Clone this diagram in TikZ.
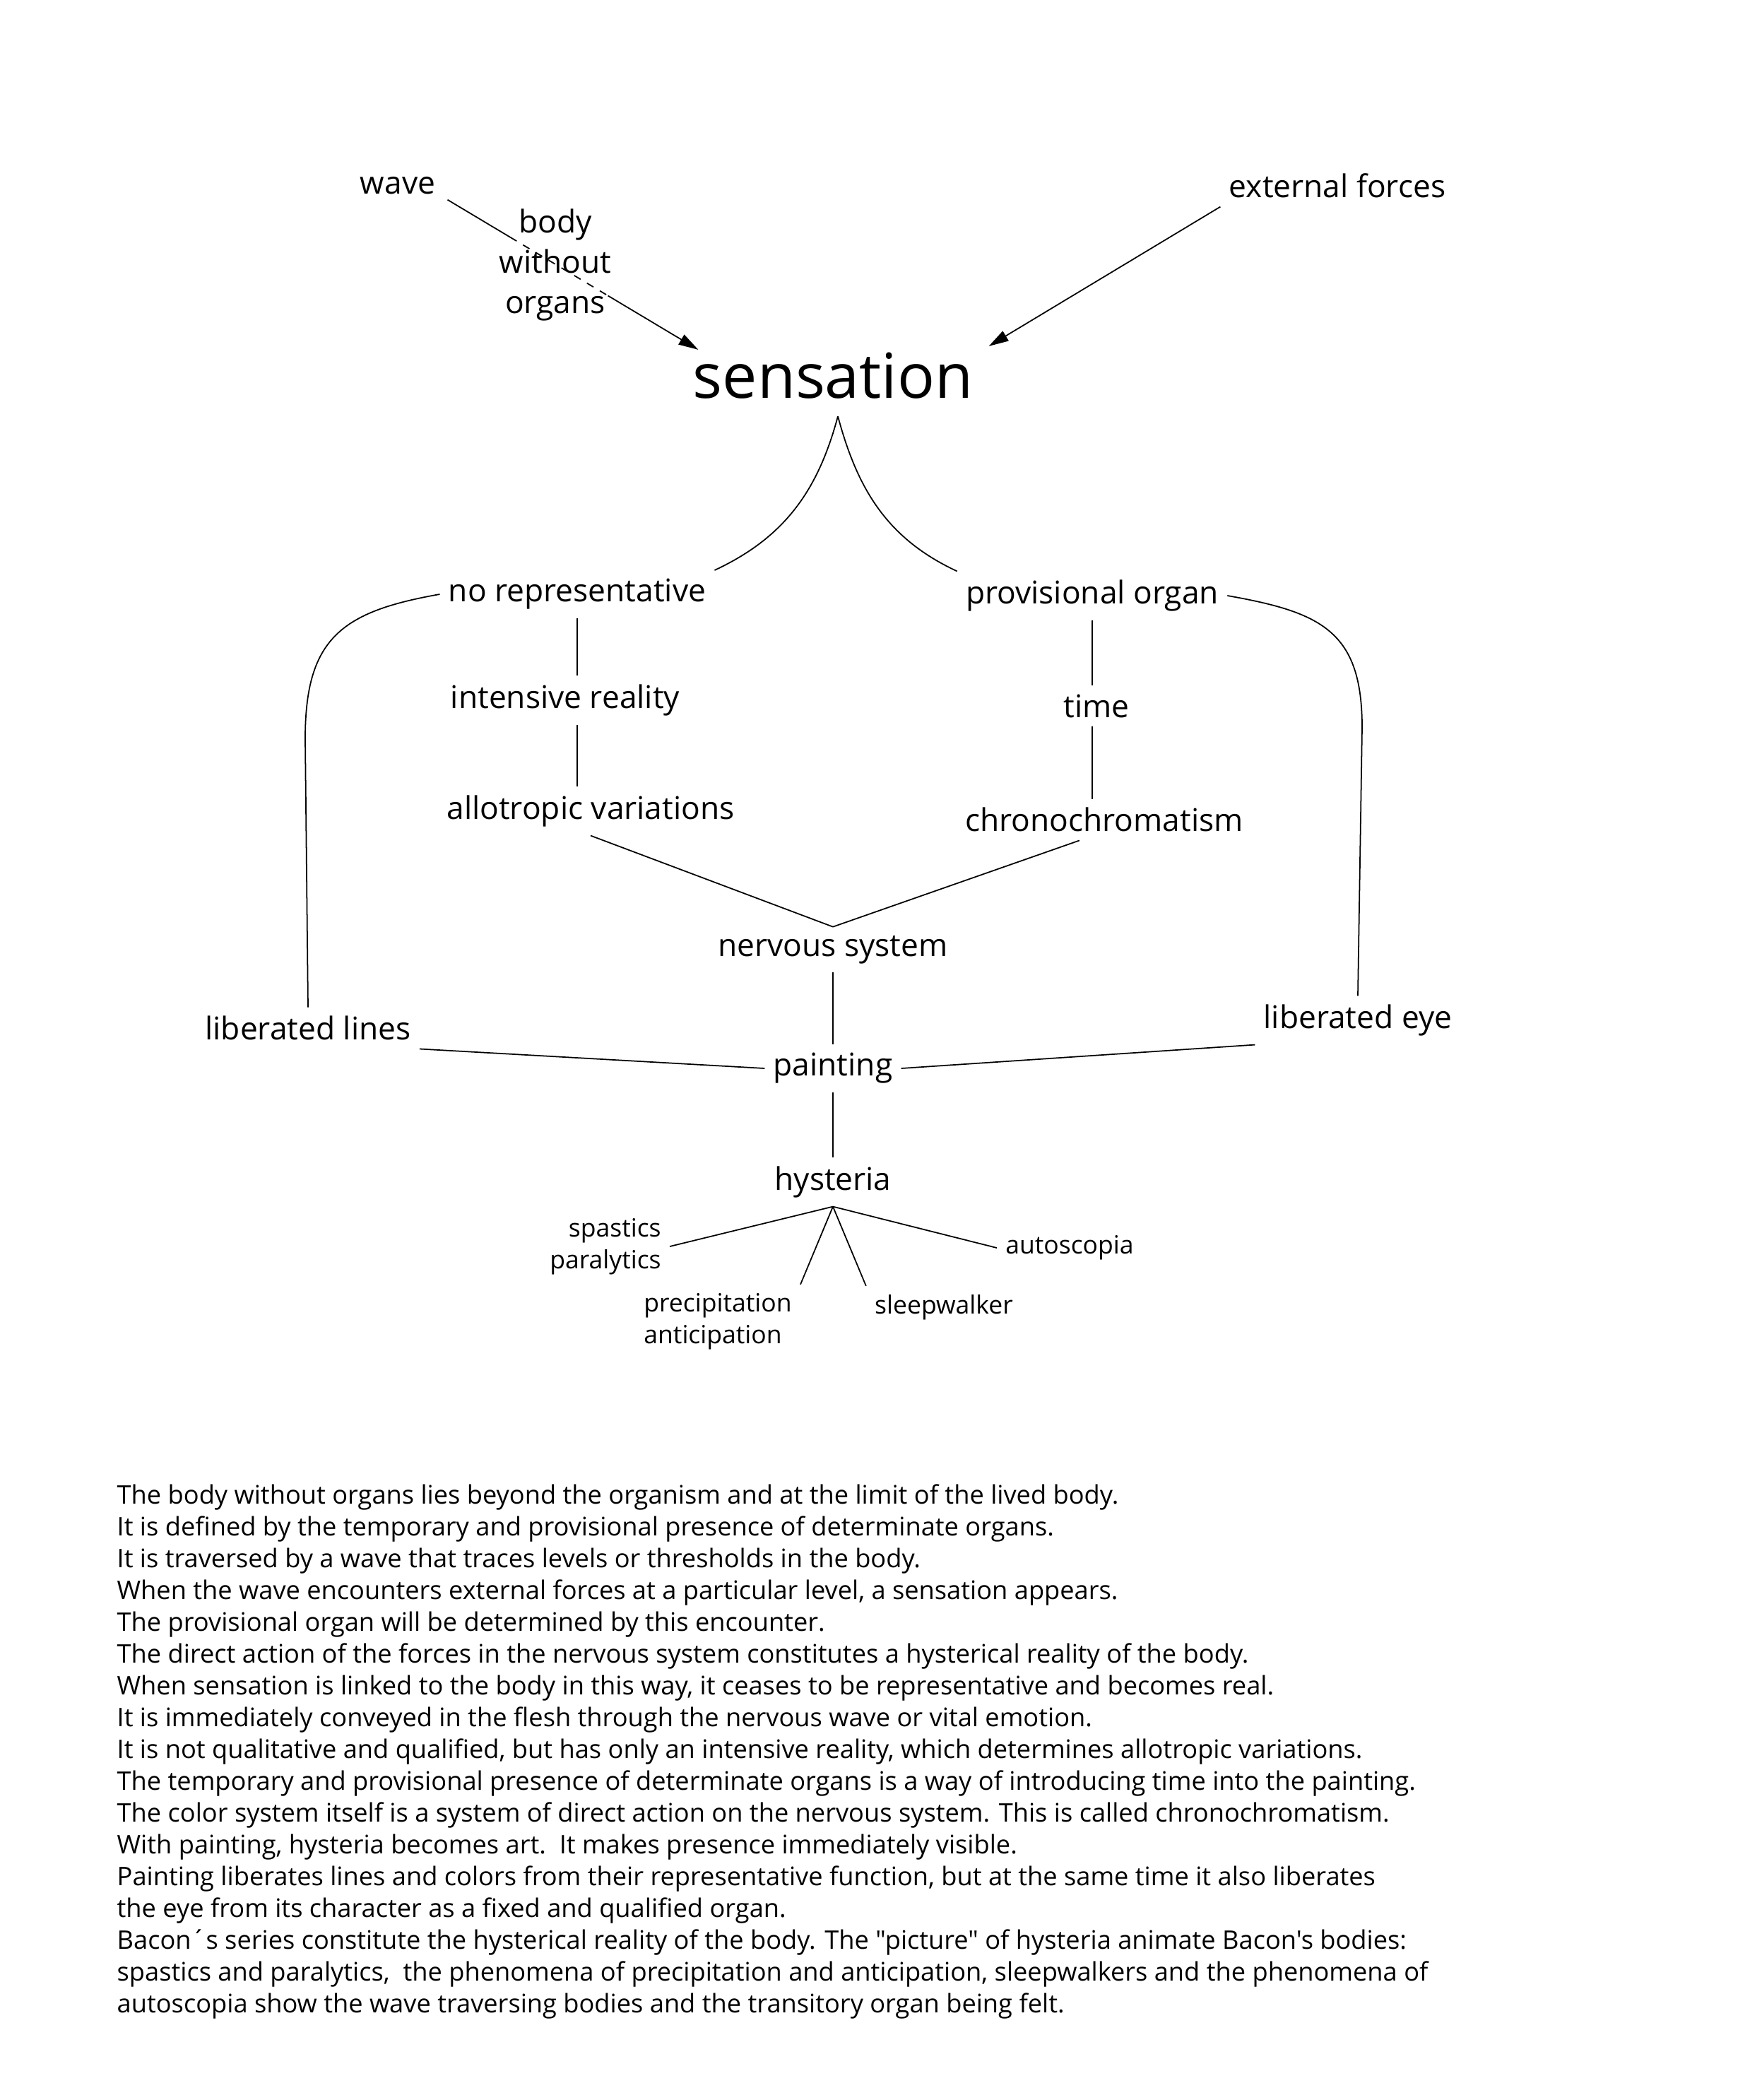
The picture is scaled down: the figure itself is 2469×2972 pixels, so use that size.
\documentclass[tikz,border=0pt]{standalone}
\usepackage{fontspec}
\setmainfont{Open Sans}[Ligatures=TeXOff]
\usetikzlibrary{positioning,arrows.meta,calc}
\tikzset{
  lbl/.style={font=\fontsize{12.6}{16.2}\selectfont,align=center},
  big/.style={font=\fontsize{25}{30}\selectfont},
  sml/.style={font=\fontsize{10.1}{12.8}\selectfont},
  para/.style={font=\fontsize{10.3}{12.8}\selectfont,align=left,inner sep=0pt},
  ln/.style={draw=black,line width=0.5pt},
  ar/.style={ln,-{Triangle[length=2.8mm,width=1.6mm]}},
}

\begin{document}
\begin{tikzpicture}[x=0.01cm,y=-0.01cm]
  \useasboundingbox (0,0) rectangle (2469,2972);
  % top
  \node[lbl] (wave) at (563,263) {wave};
  \node[lbl] (bwo) at (786,375) {body\\without\\organs};
  \node[lbl] (forces) at (1893,263) {external forces};
  \node[big] (sens) at (1179,532) {sensation};
  % two branches
  \node[lbl] (norep) at (817,841) {no representative};
  \node[lbl] (provorg) at (1546,843) {provisional organ};
  \node[lbl] (intens) at (800,991) {intensive reality};
  \node[lbl] (time) at (1552,999) {time};
  \node[lbl] (allo) at (836,1148) {allotropic variations};
  \node[lbl] (chrono) at (1563,1160) {chronochromatism};
  \node[lbl] (nerv) at (1179,1344) {nervous system};
  \node[lbl] (linl) at (436,1455) {liberated lines};
  \node[lbl] (libeye) at (1922,1444) {liberated eye};
  \node[lbl] (paint) at (1179,1512) {painting};
  \node[lbl] (hyst) at (1179,1673) {hysteria};
  % hysteria
  \node[sml,align=right] (spast) at (857,1764) {spastics\\paralytics};
  \node[sml,align=left] (precip) at (1016,1870) {precipitation\\anticipation};
  \node[sml] (sleep) at (1336,1850) {sleepwalker};
  \node[sml] (autosc) at (1514,1766) {autoscopia};
  % wave through the body without organs
  \coordinate (w0) at ($(wave.south east)+(5,-5)$);
  \coordinate (w1) at ($(sens.north west)+(20,8)$);
  \draw[ln] (w0) -- ($(w0)!.25!(w1)$);
  \draw[ln,dashed] ($(w0)!.25!(w1)$) -- ($(w0)!.64!(w1)$);
  \draw[ar] ($(w0)!.64!(w1)$) -- (w1);
  \draw[ar] (forces.south west) -- ($(sens.north east)+(10,3)$);
  \coordinate (apex) at ($(sens.south)+(7,12)$);
  \draw[ln] (apex) to[out=-105,in=25] (norep.north east);
  \draw[ln] (apex) to[out=-75,in=155] (provorg.north west);
  \draw[ln] (norep.west) to[out=190,in=90,looseness=1.3] ($(linl.north)+(-4,-380)$) -- (linl.north);
  \draw[ln] (provorg.east) to[out=-10,in=90,looseness=1.3] ($(libeye.north)+(6,-380)$) -- (libeye.north);
  \draw[ln] (norep.south) -- (norep.south |- intens.north);
  \draw[ln] (norep.south |- intens.south) -- (norep.south |- allo.north);
  \draw[ln] (provorg.south) -- (provorg.south |- time.north);
  \draw[ln] (provorg.south |- time.south) -- (provorg.south |- chrono.north);
  \draw[ln] (allo.south) -- (nerv.north);
  \draw[ln] ([xshift=-10]chrono.south) -- (nerv.north);
  \draw[ln] (nerv.south) -- (paint.north);
  \draw[ln] (linl.south east) -- (paint.west);
  \draw[ln] (libeye.south west) -- (paint.east);
  \draw[ln] (paint.south) -- (hyst.north);
  \foreach \h/\a in {spast/east,precip/north east,sleep/north west,autosc/west}
    \draw[ln] (hyst.south) -- (\h.\a);
  % notes
  \node[para,anchor=north west] (notes) at (165,2100) {%
The body without organs lies beyond the organism and at the limit of the lived body.\\
It is defined by the temporary and provisional presence of determinate organs.\\
It is traversed by a wave that traces levels or thresholds in the body.\\
When the wave encounters external forces at a particular level, a sensation appears.\\
The provisional organ will be determined by this encounter.\\
The direct action of the forces in the nervous system constitutes a hysterical reality of the body.\\
When sensation is linked to the body in this way, it ceases to be representative and becomes real.\\
It is immediately conveyed in the flesh through the nervous wave or vital emotion.\\
It is not qualitative and qualified, but has only an intensive reality, which determines allotropic variations.\\
The temporary and provisional presence of determinate organs is a way of introducing time into the painting.\\
The color system itself is a system of direct action on the nervous system. This is called chronochromatism.\\
With painting, hysteria becomes art.\ \ It makes presence immediately visible.\\
Painting liberates lines and colors from their representative function, but at the same time it also liberates\\
the eye from its character as a fixed and qualified organ.\\
Bacon´s series constitute the hysterical reality of the body. The "picture" of hysteria animate Bacon's bodies:\\
spastics and paralytics,\ \ the phenomena of precipitation and anticipation, sleepwalkers and the phenomena of\\
autoscopia show the wave traversing bodies and the transitory organ being felt.};
\end{tikzpicture}
\end{document}
